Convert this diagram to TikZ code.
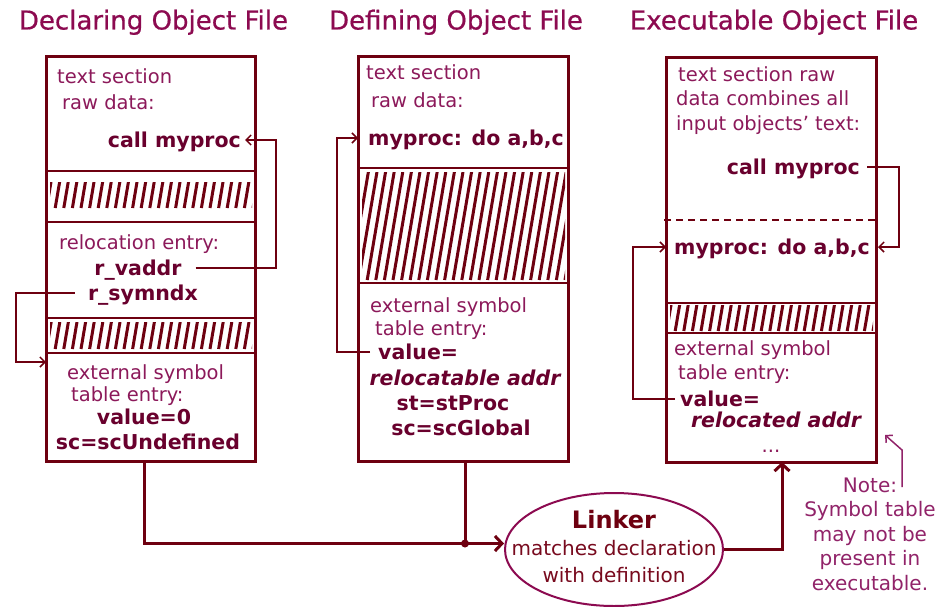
\documentclass[tikz,border=0pt]{standalone}
\usepackage{fontspec}
\setmainfont{DejaVu Sans}
\newfontfamily\ttlfont[FakeBold=0.6]{DejaVu Sans}
\usetikzlibrary{arrows.meta,shapes.geometric}
\definecolor{linec}{RGB}{110,0,16}
\definecolor{titlec}{RGB}{140,10,80}
\definecolor{regc}{RGB}{140,25,90}
\definecolor{boldc}{RGB}{105,0,45}
\definecolor{ellc}{RGB}{140,10,80}
\definecolor{notec}{RGB}{145,35,105}
\newcommand{\hatchband}[4]{%
  \begin{scope}
    \clip (#1,#3) rectangle (#2,#4);
    \pgfmathsetmacro{\hdx}{0.17*(#4-#3)}
    \foreach \i in {0,...,27} \draw[hatchsty] ({#1-12+\i*8.6},#4) -- ++(\hdx,{-(#4-#3)});
  \end{scope}}
\begin{document}
\begin{tikzpicture}[x=1pt,y=-1pt,
  reg/.style={inner sep=0pt, text=regc, font=\fontsize{19.5}{23}\selectfont, text height=14pt, text depth=0pt},
  bld/.style={inner sep=0pt, text=boldc, font=\bfseries\fontsize{20.5}{23}\selectfont, text height=15pt, text depth=0pt},
  bit/.style={bld, font=\bfseries\itshape\fontsize{20.5}{23}\selectfont},
  ttl/.style={inner sep=0pt, text=titlec, font=\ttlfont\fontsize{26}{30}\selectfont, text height=19pt, text depth=0pt},
  boxsty/.style={draw=linec, line width=3pt, rectangle, inner sep=0pt, outer sep=0pt, anchor=north west},
  divsty/.style={draw=linec, line width=2.5pt},
  hatchsty/.style={draw=linec, line width=3pt},
  conn/.style={draw=linec, line width=1.5pt, -{Straight Barb[length=5pt,width=10pt]}},
  flow/.style={draw=linec, line width=3pt, -{Straight Barb[length=7pt,width=15pt]}},
  notesty/.style={inner sep=0pt, text=notec, font=\fontsize{20}{24.5}\selectfont, align=center}]
\useasboundingbox (0,0) rectangle (944,607);
\fill[white] (0,0) rectangle (944,607);

% titles
\node[ttl] (t1) at (153.5,20) {Declaring Object File};
\node[ttl] (t2) at (456,20) {Defining Object File};
\node[ttl] (t3) at (774,20) {Executable Object File};

% ---------- Declaring object file ----------
\node[boxsty, minimum width=209pt, minimum height=404pt] (decl) at (46,57) {};
\draw[divsty] (46,171) -- (255,171);
\draw[divsty] (46,222) -- (255,222);
\draw[divsty] (46,318) -- (255,318);
\draw[divsty] (46,353) -- (255,353);
\hatchband{50}{252}{182}{208}
\hatchband{50}{252}{322}{349}
\node[reg, anchor=west] (d1a) at (57,77) {text section};
\node[reg, anchor=west] (d1b) at (62,103) {raw data:};
\node[bld, anchor=east] (call1) at (241,140) {call myproc};
\node[reg, anchor=west] (rel) at (59,242) {relocation entry:};
\node[bld] (rvaddr) at (138,268) {r\_vaddr};
\node[bld] (rsym) at (143,293) {r\_symndx};
\node[reg, anchor=west] (ext1) at (67,372) {external symbol};
\node[reg, anchor=west] (tab1) at (71,394) {table entry:};
\node[bld] (val1) at (144,417) {value=0};
\node[bld] (sc1) at (148,442) {sc=scUndefined};
\draw[conn] ([xshift=14pt]rvaddr.east) -| ([xshift=35pt]call1.east) -- ([xshift=4pt]call1.east);
\draw[conn] ([xshift=-13pt]rsym.west) -- ++(-59,0) |- ([yshift=-305pt]decl.north west);

% ---------- Defining object file ----------
\node[boxsty, minimum width=210pt, minimum height=404pt] (def) at (358,57) {};
\draw[divsty] (358,168) -- (568,168);
\draw[divsty] (358,283) -- (568,283);
\hatchband{362}{565}{172}{280}
\node[reg, anchor=west] (d2a) at (366,73) {text section};
\node[reg, anchor=west] (d2b) at (371,100) {raw data:};
\node[bld, anchor=west] (myproc2) at (368,138) {myproc: do a,b,c};
\node[reg, anchor=west] (ext2) at (370,305) {external symbol};
\node[reg, anchor=west] (tab2) at (375,328) {table entry:};
\node[bld, anchor=west] (val2) at (378,352) {value=};
\node[bit] (reloc2) at (465,378) {relocatable addr};
\node[bld] (st2) at (453,403) {st=stProc};
\node[bld] (sc2) at (461,428) {sc=scGlobal};
\draw[conn] ([xshift=-8pt]val2.west) -- ++(-33,0) |- ([xshift=-10pt]myproc2.west);

% ---------- Executable object file ----------
\node[boxsty, minimum width=210pt, minimum height=404pt] (exec) at (666,58) {};
\draw[linec, line width=1.5pt, dash pattern=on 7pt off 5pt] (664,220) -- (876,220);
\draw[divsty] (666,303) -- (876,303);
\draw[divsty] (666,333) -- (876,333);
\hatchband{670}{873}{305}{331}
\node[reg, anchor=west] (e1) at (678,75) {text section raw};
\node[reg, anchor=west] (e2) at (676,99) {data combines all};
\node[reg, anchor=west] (e3) at (676,123) {input objects{\char"0027} text:};
\node[bld, anchor=east] (call3) at (860,167) {call myproc};
\node[bld, anchor=west] (myproc3) at (674,247) {myproc: do a,b,c};
\node[reg, anchor=west] (ext3) at (674,348) {external symbol};
\node[reg, anchor=west] (tab3) at (678,372) {table entry:};
\node[bld, anchor=west] (val3) at (680,399) {value=};
\node[bit] (reloc3) at (776,420) {relocated addr};
\node[reg] (dots) at (771,445) {...};
\draw[conn] ([xshift=7pt]call3.east) -| ([xshift=29pt]myproc3.east) -- ([xshift=8pt]myproc3.east);
\draw[conn] ([xshift=-5pt]val3.west) -- ++(-42,0) |- ([xshift=-8pt]myproc3.west);

% ---------- Linker ----------
\node[ellipse, draw=ellc, line width=2pt, minimum width=218pt, minimum height=113pt, inner sep=0pt] (linker) at (614,549.5) {};
\node[inner sep=0pt, text=linec, font=\bfseries\fontsize{24}{28}\selectfont] (lk1) at (614,520) {Linker};
\node[inner sep=0pt, text={rgb,255:red,120;green,10;blue,30}, font=\fontsize{20}{24}\selectfont] (lk2) at (614,548) {matches declaration};
\node[inner sep=0pt, text={rgb,255:red,120;green,10;blue,30}, font=\fontsize{20}{24}\selectfont] (lk3) at (614,575) {with definition};

\coordinate (junc) at (465,543.5);
\draw[flow] ([xshift=-6pt]decl.south) |- ([yshift=6pt]linker.west);
\draw[draw=linec, line width=3pt] ([xshift=2pt]def.south) -- (junc);
\fill[linec] (junc) circle (4);
\draw[flow] (linker.east) -| ([xshift=11pt]exec.south);

% ---------- Note ----------
\node[notesty] (note) at (870,534) {Note:\\Symbol table\\may not be\\present in\\executable.};
\coordinate (nstart) at (902,487);
\draw[draw=notec, line width=1.5pt, -{Straight Barb[length=5pt,width=10pt]}] (nstart) -- ++(0,-37) -- ++(-17,-15);
\end{tikzpicture}
\end{document}
